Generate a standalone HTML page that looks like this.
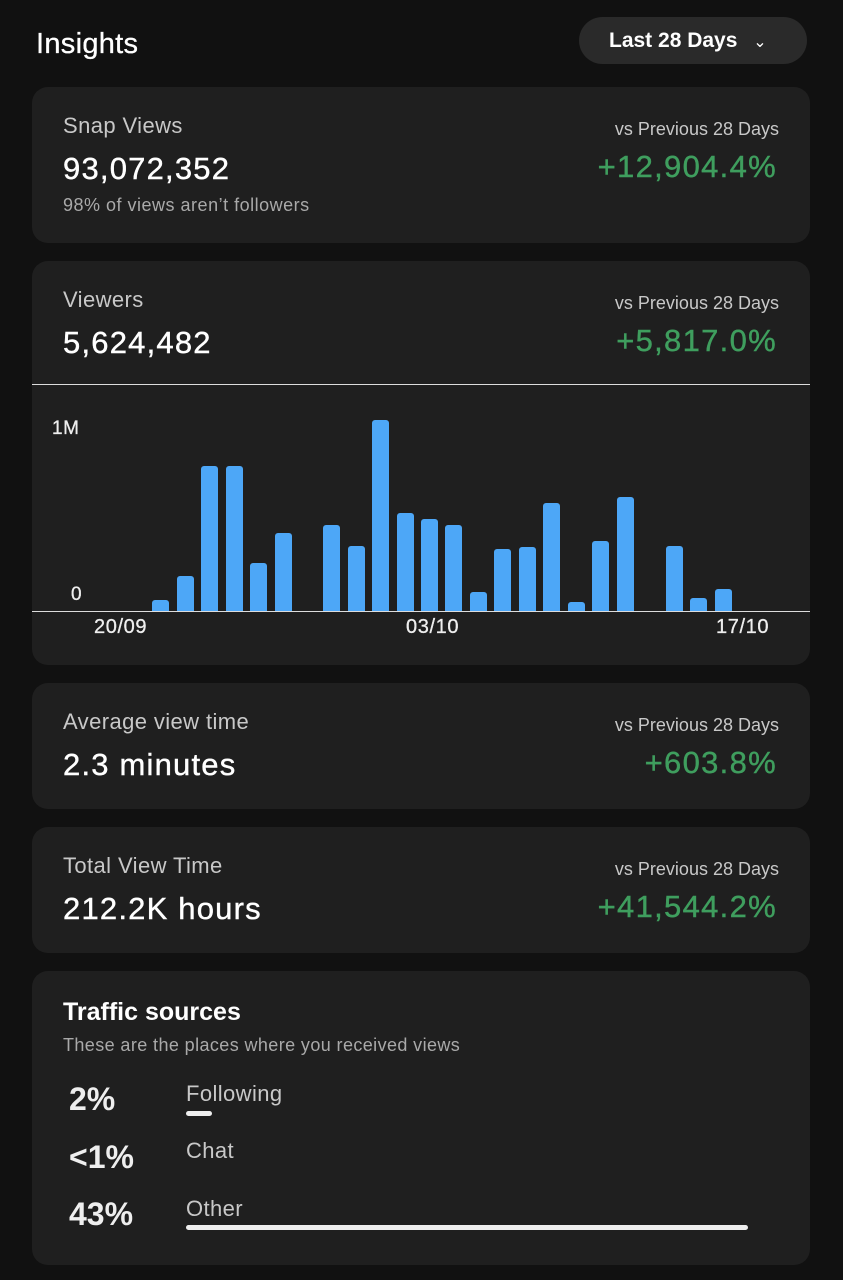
<!DOCTYPE html>
<html><head><meta charset="utf-8"><style>
*{margin:0;padding:0;box-sizing:border-box}
body{width:843px;height:1280px;background:#111111;font-family:"Liberation Sans",sans-serif;color:#fff;position:relative;overflow:hidden}
.abs{position:absolute}
.card{position:absolute;left:32px;width:778px;background:#1f1f1f;border-radius:16px}
.lbl{position:absolute;left:31px;font-size:22px;color:#c8c8c8;letter-spacing:0.4px}
.big{position:absolute;left:31px;font-size:31px;color:#fff;letter-spacing:1.2px;-webkit-text-stroke:0.4px #fff}
.vs{position:absolute;right:31px;font-size:18px;color:#c8c8c8}
.pct{position:absolute;right:33px;font-size:31px;color:#3f9e5e;letter-spacing:1.3px;-webkit-text-stroke:0.4px #3f9e5e}
.bar{position:absolute;width:17px;background:#4da7f7;border-radius:3px 3px 0 0}
.ax{position:absolute;font-size:20px;color:#eee;letter-spacing:0.6px;-webkit-text-stroke:0.3px #eee}
</style></head><body>
<div class="abs" style="left:36px;top:28px;font-size:29px;letter-spacing:0.3px;-webkit-text-stroke:0.3px #fff">Insights</div>
<div class="abs" style="left:579px;top:17px;width:228px;height:47px;border-radius:24px;background:#2a2a2a;font-size:21px;font-weight:bold;line-height:47px;padding-left:30px">Last 28 Days <span style="font-weight:normal;font-size:16px;margin-left:10px">&#8964;</span></div>

<div class="card" style="top:87px;height:156px">
<div class="lbl" style="top:26px">Snap Views</div>
<div class="big" style="top:64px">93,072,352</div>
<div class="abs" style="left:31px;top:108px;font-size:18px;color:#a9a9a9;letter-spacing:0.5px">98% of views aren’t followers</div>
<div class="vs" style="top:32px">vs Previous 28 Days</div>
<div class="pct" style="top:62px">+12,904.4%</div>
</div>

<div class="card" style="top:261px;height:404px">
<div class="lbl" style="top:26px">Viewers</div>
<div class="big" style="top:64px">5,624,482</div>
<div class="vs" style="top:32px">vs Previous 28 Days</div>
<div class="pct" style="top:62px">+5,817.0%</div>
<div class="abs" style="left:0;top:123px;width:778px;height:1px;background:#ddd"></div>
<div class="ax" style="left:20px;top:157px;font-size:19px">1M</div>
<div class="ax" style="left:39px;top:323px;font-size:19px">0</div>
<div class="abs" style="left:0;top:350px;width:778px;height:1px;background:#ddd"></div>
<div class="ax" style="left:62px;top:355px">20/09</div>
<div class="ax" style="left:374px;top:355px">03/10</div>
<div class="ax" style="left:684px;top:355px">17/10</div>
</div>
<div class="bar" style="left:152px;top:600px;height:11px"></div>
<div class="bar" style="left:177px;top:576px;height:35px"></div>
<div class="bar" style="left:201px;top:466px;height:145px"></div>
<div class="bar" style="left:226px;top:466px;height:145px"></div>
<div class="bar" style="left:250px;top:563px;height:48px"></div>
<div class="bar" style="left:275px;top:533px;height:78px"></div>
<div class="bar" style="left:323px;top:525px;height:86px"></div>
<div class="bar" style="left:348px;top:546px;height:65px"></div>
<div class="bar" style="left:372px;top:420px;height:191px"></div>
<div class="bar" style="left:397px;top:513px;height:98px"></div>
<div class="bar" style="left:421px;top:519px;height:92px"></div>
<div class="bar" style="left:445px;top:525px;height:86px"></div>
<div class="bar" style="left:470px;top:592px;height:19px"></div>
<div class="bar" style="left:494px;top:549px;height:62px"></div>
<div class="bar" style="left:519px;top:547px;height:64px"></div>
<div class="bar" style="left:543px;top:503px;height:108px"></div>
<div class="bar" style="left:568px;top:602px;height:9px"></div>
<div class="bar" style="left:592px;top:541px;height:70px"></div>
<div class="bar" style="left:617px;top:497px;height:114px"></div>
<div class="bar" style="left:666px;top:546px;height:65px"></div>
<div class="bar" style="left:690px;top:598px;height:13px"></div>
<div class="bar" style="left:715px;top:589px;height:22px"></div>

<div class="card" style="top:683px;height:126px">
<div class="lbl" style="top:26px">Average view time</div>
<div class="big" style="top:64px">2.3 minutes</div>
<div class="vs" style="top:32px">vs Previous 28 Days</div>
<div class="pct" style="top:62px">+603.8%</div>
</div>

<div class="card" style="top:827px;height:126px">
<div class="lbl" style="top:26px">Total View Time</div>
<div class="big" style="top:64px">212.2K hours</div>
<div class="vs" style="top:32px">vs Previous 28 Days</div>
<div class="pct" style="top:62px">+41,544.2%</div>
</div>

<div class="card" style="top:971px;height:294px">
<div class="abs" style="left:31px;top:27px;font-size:25px;font-weight:bold">Traffic sources</div>
<div class="abs" style="left:31px;top:64px;font-size:18px;color:#a9a9a9;letter-spacing:0.4px">These are the places where you received views</div>
<div class="abs" style="left:37px;top:110px;font-size:32px;font-weight:bold;color:#eee">2%</div>
<div class="abs" style="left:154px;top:110px;font-size:22px;color:#c8c8c8;letter-spacing:0.4px">Following</div>
<div class="abs" style="left:154px;top:140px;width:26px;height:5px;border-radius:3px;background:#eee"></div>
<div class="abs" style="left:37px;top:168px;font-size:32px;font-weight:bold;color:#eee">&lt;1%</div>
<div class="abs" style="left:154px;top:167px;font-size:22px;color:#c8c8c8;letter-spacing:0.4px">Chat</div>
<div class="abs" style="left:37px;top:225px;font-size:32px;font-weight:bold;color:#eee">43%</div>
<div class="abs" style="left:154px;top:225px;font-size:22px;color:#c8c8c8;letter-spacing:0.4px">Other</div>
<div class="abs" style="left:154px;top:254px;width:562px;height:5px;border-radius:3px;background:#eee"></div>
</div>
</body></html>
